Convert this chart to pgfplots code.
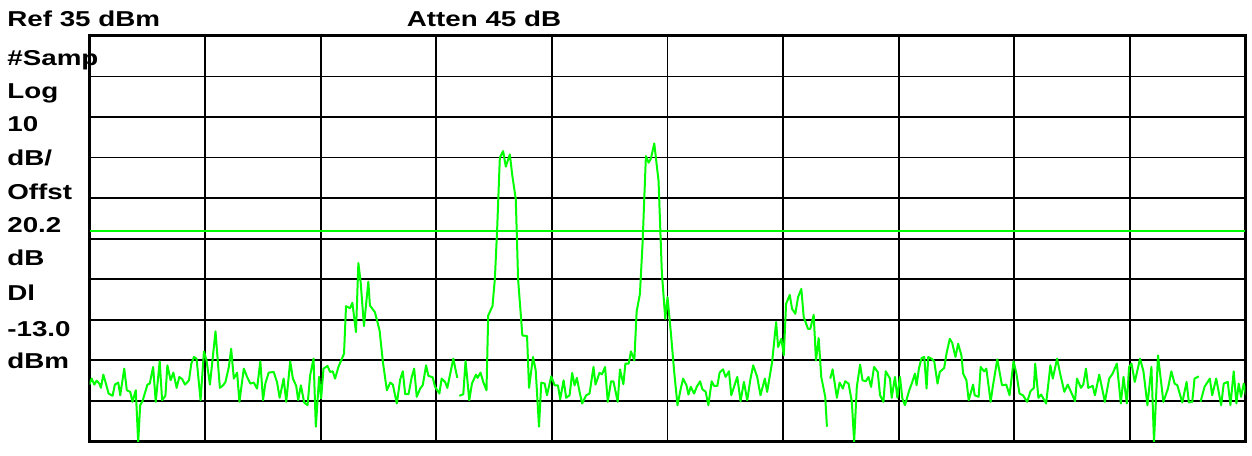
\documentclass[border=0pt]{standalone}
\usepackage{fontspec}
\usepackage{pgfplots}
\usepackage{pgfplotstable}
\pgfplotsset{compat=1.18}
\newfontfamily\lbl{Liberation Sans}[FakeStretch=1.29]
\definecolor{trace}{RGB}{0,255,0}

% trace: px = horizontal pixel, py = vertical pixel
\pgfplotstableread{
px py
89.7 386
92 380
94.7 386
97 382
99.7 385
101.3 389.3
103.7 376
106.3 385
109 395
113 397.3
115.3 386
118.7 384
120.7 396.7
124.7 370
127.3 391.7
130.7 393.3
133 403.3
136.3 391.7
138.7 444
140.7 406.7
143 402.7
148 386
150.3 385
153.7 368.3
156.3 403.3
160.3 362.7
162.7 401.7
166 397.3
168 366.7
171.3 381.7
174 374
177.3 389.3
180 378.3
183 380.7
185.7 386
189.7 381.7
192 365
194.7 358.3
197.3 360
201.3 401.7
204.7 352.7
207.3 361.7
210.7 386
216.3 332.7
220.7 389.3
224 386.7
226.3 383.3
229.7 368.3
232 350
234.7 380
238 374
240.3 403.3
244.7 370
248 378.3
251.3 385
254.7 384
258 390
261.3 362.7
264 401.7
266.3 385
269.7 374
274.7 373.3
278 383.3
280.7 399.3
284.7 380
287.3 403.3
291.3 362.7
294 380
297.3 387.3
299.3 401.7
302 386.7
305.3 404
308.7 406.7
311.3 376.7
314.7 360
317 428.3
320.3 378.3
322.3 400
324.7 370
328.7 367.3
331.3 373.3
334 372.7
336.3 380
339.7 368.3
345.3 355
347.3 307.3
351.3 309.3
353.7 304
357.3 333.3
359.7 264
362 283.3
365.3 327.3
369.7 282.7
371.3 306.7
376.3 313.3
381 331.7
384.3 363.3
388.3 391.7
391.7 384
394.3 386
398.3 405
401.7 380.7
404.3 372.7
406.7 395.7
410 395.7
413.3 378.3
415.7 370
418.3 398.3
421.7 390
424.3 386.7
427.7 366.7
430 377.3
434.3 378.7
436.7 388.3
441 395
443.3 380
446.7 383.3
449 389.3
455 360
459 379.3
460 nan
461 397.3
465 395.7
467.3 362.3
471 401.7
473.7 385
477.7 376
479.3 379.3
482.3 374
485 383.3
488.3 391.7
490 316.7
494.3 307.3
496.7 280
499 230
501.7 158.3
505 151.7
507.7 167.3
511.7 155
514.3 176.7
517.7 200
520 280
524.3 336.7
529 337.3
531 389.3
535 358.3
537.7 371.7
541 428.3
543.3 384
546.7 385
549 396.7
553.3 377.7
556.7 386.7
560 386.7
562.3 400.7
565.7 381.7
568.3 399.3
571.7 396.7
574.3 374.3
576.7 386.7
579 379.3
581.7 393.3
584.3 405
588.3 396.7
591.7 395
595.7 368.3
597.7 386
601.7 374.3
604.3 375.7
607.3 368.3
610 403.3
613.3 382.7
615.7 382.7
620 403.3
622.3 370.7
625.7 385.7
627.7 365
631 365
633.3 352.7
636.7 361.7
639 312.7
642.3 295
645 243.3
648.3 156.7
651 163.3
653.3 159.3
656.7 144
661 181.7
664.3 273.3
667.7 320
670 298.3
673.3 333.3
676.7 373.3
680 406.7
683.3 390
685.7 380
689 386.7
691 396
693.3 388.3
696.7 395
699.3 388.3
702.7 382.7
705 390.7
708.3 393.3
711 406.7
714.3 382.7
716.7 387.3
720 387.3
722.3 374
725.7 370.7
728.3 378.3
731.7 372.7
734 396.7
740 378.3
743.3 402.7
746.7 383.3
750 401.7
753.3 380
756 366.7
760 378.3
763.3 396.7
767.7 380
770 393.3
775 363.3
779 323.3
781 348.3
784.3 340
786.7 356.7
789 305
792.7 296
795 310
798.3 315
801 298.3
804.3 290
806.7 318.3
811 330
813.3 330
816.7 316
819 361.7
821.7 339.3
824.3 378.3
828.3 398.3
830 428.3
831.5 nan
833.3 380
835.7 370.7
840 399.3
842.7 384
846 390
848.3 382.7
851.7 385
855 403.3
857.3 443.3
860 388.3
863.3 366
865.7 381.7
869 382.7
871.7 378.3
874.3 388.3
877.3 368.3
881 373.3
883.3 396.7
886.7 403.3
889 372.7
893.3 380
895 399.3
898.3 378.3
900.7 399.3
903.3 378.3
905.7 400
908.3 406.7
912.3 392.7
915.7 383.3
918.3 375
920 386.7
922.3 370
925 359.3
927.7 358.3
930 390
931.7 358.3
935 360
937.7 362.7
941 385
943.3 373.3
947.7 369.3
950 355
953.3 340
955.7 344
959 358.3
961.7 345
965 356.7
966.7 375
970 381.7
972.3 401.7
976.7 386
978.3 396.7
982.3 398.3
984.3 368.3
987.7 372.7
990 370
994.3 403.3
996.7 386.7
1001 360.7
1005.7 386.7
1010 386
1013.3 396.7
1017.3 362.7
1020 374
1023.3 395
1026.7 396.7
1031 403.3
1034.3 392.7
1037.7 389.3
1039 365
1042.3 399.3
1045 396
1050 405
1054.3 366.7
1056.7 380
1061 360
1064.3 376
1068.3 393.3
1071.7 386
1075.7 395
1079 402.7
1081 380
1085 389.3
1087.3 386
1090 370
1092.3 389.3
1096.7 387.3
1099 396.7
1103.3 376
1109 403.3
1113.3 380
1116.7 375
1121 365
1125 405
1127.7 378.3
1131 405
1133.3 368.3
1135.7 365
1139 383.3
1144.3 360
1147.7 372.7
1151.7 406.7
1155.7 368.3
1158.3 443.3
1162.3 356.7
1167.7 403.3
1172.3 390
1175.7 372.7
1179 385
1181.7 386.7
1186.7 404
1191 383.3
1193.3 404
1196.7 403.3
1199 380
1203.3 377.7
1204 nan
1205 403.3
1209 388.3
1214.3 380
1216.7 396.7
1220.7 380
1225.7 406.7
1228.3 385
1232.3 383.3
1235 406.7
1238.3 372.7
1241 405
1243.3 385
1245.7 398.3
1248.3 385
1250.7 396.7
}\tracedata

\begin{document}
\begin{tikzpicture}
\begin{axis}[
  name=ax,
  scale only axis,
  width=580pt, height=203.5pt,
  xmin=0, xmax=10, ymin=-65, ymax=35,
  xtick={0,...,10}, ytick={-65,-55,...,35},
  xticklabels={}, yticklabels={},
  major tick length=0pt,
  grid=major,
  grid style={black, line width=0.9pt},
  axis line style={black, line width=1.6pt},
  unbounded coords=jump,
]
\addplot[trace, line width=1pt] coordinates {(0,-13.0) (10,-13.0)};
\addplot[trace, line width=1pt, line join=round]
  table[x expr={(\thisrow{px}-90)/116}, y expr={35-(\thisrow{py}-36)/4.07}] {\tracedata};
\end{axis}
\path[use as bounding box] ([shift={(-45pt,-1pt)}]ax.south west) rectangle ([shift={(1pt,18pt)}]ax.north east);
\begin{scope}[every node/.style={anchor=base west, inner sep=0pt, font=\lbl\bfseries\fontsize{10.8pt}{12pt}\selectfont}]
\node at ([shift={(-41.5pt,4.5pt)}]ax.north west) {Ref 35 dBm};
\node at ([shift={(159pt,4.5pt)}]ax.north west) {Atten 45 dB};
\node at ([shift={(-41.5pt,-15pt)}]ax.north west) {\#Samp};
\node at ([shift={(-41.5pt,-31.5pt)}]ax.north west) {Log};
\node at ([shift={(-41.5pt,-48pt)}]ax.north west) {10};
\node at ([shift={(-41.5pt,-65pt)}]ax.north west) {dB/};
\node at ([shift={(-41.5pt,-82pt)}]ax.north west) {Offst};
\node at ([shift={(-41.5pt,-98.5pt)}]ax.north west) {20.2};
\node at ([shift={(-41.5pt,-115pt)}]ax.north west) {dB};
\node at ([shift={(-41.5pt,-133pt)}]ax.north west) {Dl};
\node at ([shift={(-41.5pt,-151pt)}]ax.north west) {-13.0};
\node at ([shift={(-41.5pt,-167pt)}]ax.north west) {dBm};
\end{scope}
\end{tikzpicture}
\end{document}
